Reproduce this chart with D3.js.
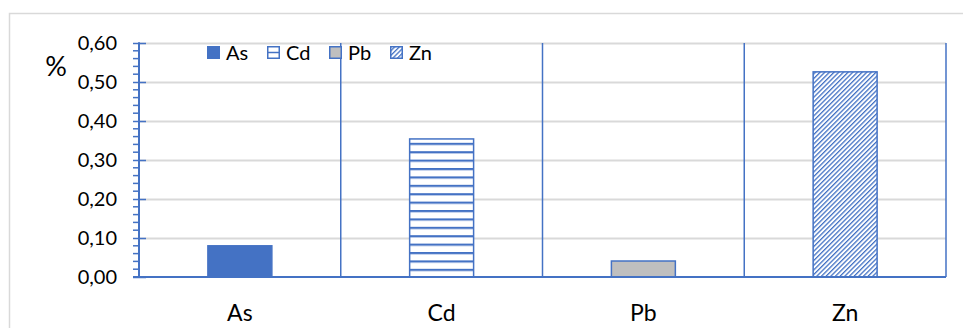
<!DOCTYPE html>
<html>
<head>
<meta charset="utf-8">
<script src="https://cdn.jsdelivr.net/npm/d3@7"></script>
<style>
  html, body { margin: 0; padding: 0; background: #fff; }
  svg { display: block; font-family: Lato, "Open Sans", sans-serif; }
</style>
</head>
<body>
<svg id="chart" width="963" height="328"></svg>
<script>
// Metal content (%) per element
const categories = ["As", "Cd", "Pb", "Zn"];
const values = [0.08, 0.354, 0.041, 0.526];
const yTicks = [0, 0.1, 0.2, 0.3, 0.4, 0.5, 0.6];
const yTickLabels = ["0,00", "0,10", "0,20", "0,30", "0,40", "0,50", "0,60"];

const blue = "#4472c4";
const svg = d3.select("#chart");

// Outer chart frame
svg.append("rect")
  .attr("x", 9.5).attr("y", 13.5)
  .attr("width", 1000).attr("height", 400)
  .attr("fill", "none").attr("stroke", "#d9d9d9").attr("stroke-width", 1.5);

const plot = { left: 139, right: 946, top: 43, bottom: 277 };

const x = d3.scaleBand().domain(categories)
  .range([plot.left, plot.right]).paddingInner(0).paddingOuter(0);
const y = d3.scaleLinear().domain([0, 0.6]).range([plot.bottom, plot.top]);

// Fill patterns
const defs = svg.append("defs");
const hPat = defs.append("pattern")
  .attr("id", "hstripes").attr("patternUnits", "userSpaceOnUse")
  .attr("width", 10).attr("height", 8.4);
hPat.append("rect").attr("width", 10).attr("height", 8.4).attr("fill", "#fff");
hPat.append("rect").attr("y", 0).attr("width", 10).attr("height", 2.2).attr("fill", blue);

const dPat = defs.append("pattern")
  .attr("id", "diag").attr("patternUnits", "userSpaceOnUse")
  .attr("width", 3.3).attr("height", 3.3)
  .attr("patternTransform", "rotate(45)");
dPat.append("rect").attr("width", 3.3).attr("height", 3.3).attr("fill", "#fff");
dPat.append("rect").attr("x", 0).attr("width", 1.3).attr("height", 3.3).attr("fill", blue);

const fills = {
  As: { fill: blue, stroke: blue },
  Cd: { fill: "url(#hstripes)", stroke: blue },
  Pb: { fill: "#bfbfbf", stroke: blue },
  Zn: { fill: "url(#diag)", stroke: blue }
};

// Horizontal gridlines
svg.append("g").selectAll("line")
  .data(yTicks.filter(d => d > 0))
  .join("line")
  .attr("x1", plot.left).attr("x2", plot.right)
  .attr("y1", d => Math.round(y(d)) + 0.5).attr("y2", d => Math.round(y(d)) + 0.5)
  .attr("stroke", "#d9d9d9").attr("stroke-width", 2);

// Category separators
svg.append("g").selectAll("line")
  .data(categories)
  .join("line")
  .attr("x1", d => x(d) + x.bandwidth()).attr("x2", d => x(d) + x.bandwidth())
  .attr("y1", plot.top).attr("y2", plot.bottom)
  .attr("stroke", blue).attr("stroke-width", 1.5);

// Bars
const barW = x.bandwidth() * 0.317;
svg.append("g").selectAll("rect")
  .data(categories.map((c, i) => ({ c, v: values[i] })))
  .join("rect")
  .attr("x", d => x(d.c) + (x.bandwidth() - barW) / 2)
  .attr("y", d => y(d.v))
  .attr("width", barW)
  .attr("height", d => y(0) - y(d.v))
  .attr("fill", d => fills[d.c].fill)
  .attr("stroke", d => fills[d.c].stroke)
  .attr("stroke-width", 1.5);

// Y axis: major ticks straddle the line, minor ticks outside
const minor = d3.range(0, 0.6001, 0.02).filter(v => Math.abs(v * 10 - Math.round(v * 10)) > 1e-6);
svg.append("g").selectAll("line")
  .data(minor)
  .join("line")
  .attr("x1", plot.left - 6).attr("x2", plot.left)
  .attr("y1", d => y(d)).attr("y2", d => y(d))
  .attr("stroke", blue).attr("stroke-width", 1.5);

const yAxis = svg.append("g")
  .attr("transform", `translate(${plot.left},0)`)
  .call(d3.axisLeft(y).tickValues(yTicks)
    .tickFormat((d, i) => yTickLabels[i]).tickSize(6).tickPadding(16));
yAxis.select(".domain").remove();
yAxis.selectAll(".tick line").attr("x1", 7).attr("stroke", blue).attr("stroke-width", 1.5);
yAxis.selectAll(".tick text").attr("font-size", 20).attr("fill", "#000")
  .attr("font-family", "Lato, sans-serif");
svg.append("line")
  .attr("x1", plot.left).attr("x2", plot.left)
  .attr("y1", plot.top - 0.75).attr("y2", plot.bottom + 0.75)
  .attr("stroke", blue).attr("stroke-width", 2);

// X baseline and category labels
svg.append("line")
  .attr("x1", plot.left - 6).attr("x2", plot.right)
  .attr("y1", plot.bottom).attr("y2", plot.bottom)
  .attr("stroke", blue).attr("stroke-width", 2);

const xAxis = svg.append("g")
  .attr("transform", `translate(0,${plot.bottom})`)
  .call(d3.axisBottom(x).tickSize(0).tickPadding(28));
xAxis.select(".domain").remove();
xAxis.selectAll(".tick text").attr("font-size", 23).attr("fill", "#000")
  .attr("font-family", "Lato, sans-serif");

// Unit label
svg.append("text").attr("x", 56).attr("y", 76)
  .attr("text-anchor", "middle").attr("font-size", 27).text("%");

// Legend
const legendX = [207, 267, 329, 390];
const lg = svg.append("g").selectAll("g")
  .data(categories)
  .join("g")
  .attr("transform", (d, i) => `translate(${legendX[i]},46)`);
lg.append("rect")
  .attr("x", 0.75).attr("y", 0.75).attr("width", 11.5).attr("height", 11.5)
  .attr("fill", d => d === "Cd" ? "#fff" : fills[d].fill)
  .attr("stroke", blue).attr("stroke-width", 1.5);
lg.filter(d => d === "Cd").append("line")
  .attr("x1", 1).attr("x2", 12).attr("y1", 6.5).attr("y2", 6.5)
  .attr("stroke", blue).attr("stroke-width", 1.5);
lg.append("text")
  .attr("x", 19).attr("y", 13.5)
  .attr("font-size", 20).text(d => d);
</script>
</body>
</html>
